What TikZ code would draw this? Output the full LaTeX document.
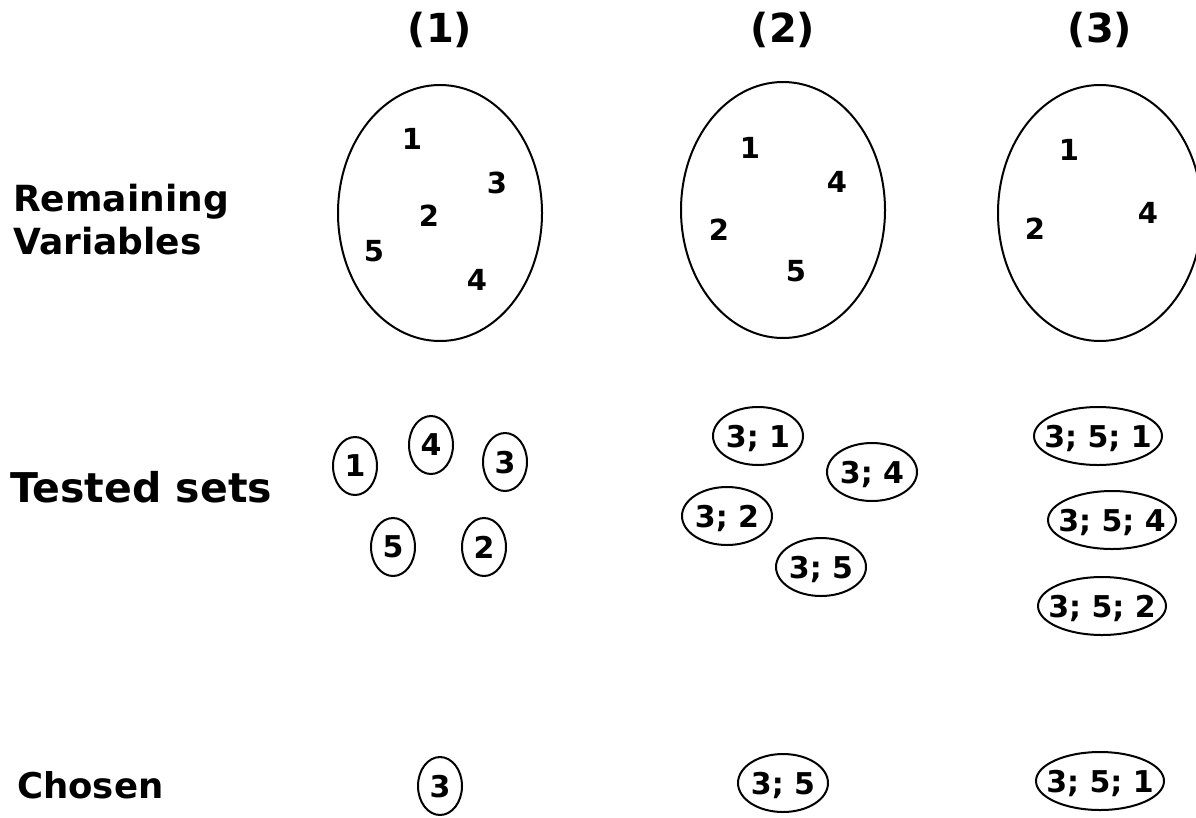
\documentclass[tikz,border=0pt]{standalone}
\usepackage{fontspec}
\setmainfont{DejaVu Sans}
\usetikzlibrary{shapes.geometric}
\begin{document}
\begin{tikzpicture}[x=1pt,y=-1pt,
  lbl/.style={font=\fontsize{36}{43}\selectfont\bfseries, anchor=west, inner sep=0pt, align=left},
  hdr/.style={font=\fontsize{40}{46}\selectfont\bfseries, inner sep=0pt},
  num/.style={font=\fontsize{29}{33}\selectfont\bfseries, inner sep=0pt, text depth=0pt},
  bigset/.style={draw, line width=2pt, ellipse, inner sep=0pt, minimum width=204pt, minimum height=256pt},
  set/.style={draw, line width=2pt, ellipse, inner sep=0pt, minimum height=58pt, text depth=0pt,
              font=\fontsize{30}{34}\selectfont\bfseries},
  s1/.style={set, minimum width=44pt},
  s2/.style={set, minimum width=90pt, inner xsep=-4pt},
  s3/.style={set, minimum width=128pt, inner xsep=-11pt}]
\useasboundingbox (0,0) rectangle (1196,817);
% headers
\node[hdr] (h1) at (440,30) {(1)};
\node[hdr] (h2) at (783,30) {(2)};
\node[hdr] (h3) at (1100,30) {(3)};
% row labels
\node[lbl] (lrem) at (13,220) {Remaining\\Variables};
\node[lbl, font=\fontsize{41}{47}\selectfont\bfseries] (ltest) at (10,487) {Tested sets};
\node[lbl, font=\fontsize{35.5}{42}\selectfont\bfseries] (lch) at (17,785) {Chosen};
% big ellipses
\node[bigset] (b1) at (440,213) {};
\node[bigset] (b2) at (783,210) {};
\node[bigset] (b3) at (1100,213) {};
% remaining numbers (1)
\node[num] (r11) at (412,139) {1};
\node[num] (r13) at (497,183) {3};
\node[num] (r12) at (429,216) {2};
\node[num] (r15) at (374,251) {5};
\node[num] (r14) at (477,280) {4};
% (2)
\node[num] (r21) at (750,148) {1};
\node[num] (r24) at (837,182) {4};
\node[num] (r22) at (719,230) {2};
\node[num] (r25) at (796,271) {5};
% (3)
\node[num] (r31) at (1069,150) {1};
\node[num] (r32) at (1035,229) {2};
\node[num] (r34) at (1148,213) {4};
% tested sets (1)
\node[s1] (t11) at (355,466) {1};
\node[s1] (t14) at (431,445) {4};
\node[s1] (t13) at (505,462) {3};
\node[s1] (t15) at (393,547) {5};
\node[s1] (t12) at (484,547) {2};
% tested sets (2)
\node[s2] (t21) at (758,436) {3; 1};
\node[s2] (t24) at (872,472) {3; 4};
\node[s2] (t22) at (727,516) {3; 2};
\node[s2] (t25) at (821,567) {3; 5};
% tested sets (3)
\node[s3] (t31) at (1098,436) {3; 5; 1};
\node[s3] (t34) at (1112,520) {3; 5; 4};
\node[s3] (t32) at (1102,606) {3; 5; 2};
% chosen
\node[s1] (c1) at (440,786) {3};
\node[s2] (c2) at (783,783) {3; 5};
\node[s3] (c3) at (1100,781) {3; 5; 1};
\end{tikzpicture}
\end{document}
